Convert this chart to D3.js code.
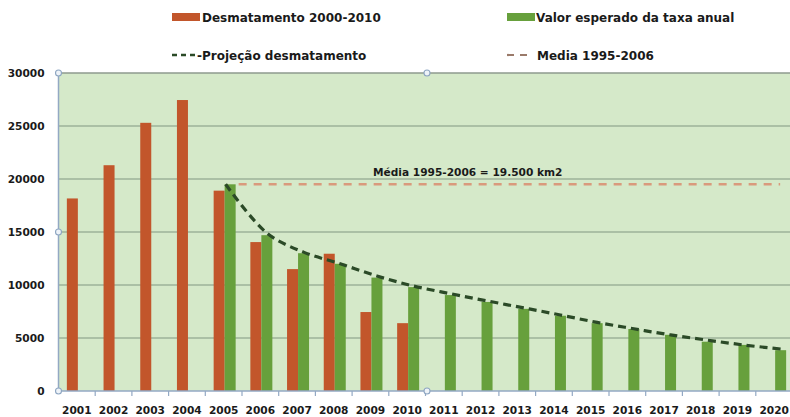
<!DOCTYPE html>
<html>
<head>
<meta charset="utf-8">
<script src="https://cdn.jsdelivr.net/npm/d3@7/dist/d3.min.js"></script>
<style>
  html, body { margin: 0; padding: 0; background: #ffffff; }
  svg { display: block; }
  text { font-family: "DejaVu Sans", "Liberation Sans", sans-serif; font-weight: bold; fill: #1a1a1a; }
</style>
</head>
<body>
<svg id="chart" width="790" height="417"></svg>
<script>
// ---------- data ----------
const years = ["2001","2002","2003","2004","2005","2006","2007","2008","2009","2010",
               "2011","2012","2013","2014","2015","2016","2017","2018","2019","2020"];
const desmatamentoYears = ["2001","2002","2003","2004","2005","2006","2007","2008","2009","2010"];
const desmatamento = [18165, 21300, 25300, 27450, 18900, 14050, 11500, 12950, 7450, 6400];
const esperadoYears = ["2005","2006","2007","2008","2009","2010","2011","2012","2013","2014",
                       "2015","2016","2017","2018","2019","2020"];
const esperado = [19500, 14700, 13000, 12000, 10700, 9800, 9050, 8400, 7750, 7100,
                  6400, 5850, 5300, 4650, 4350, 3850];
const projecao = [19500, 14900, 13100, 12000, 10850, 9900, 9180, 8500, 7840, 7170,
                  6470, 5870, 5290, 4800, 4340, 3960];
const mediaValue = 19500;
const mediaStart = "2005", mediaEnd = "2020";
const mediaLabel = "Média 1995-2006 = 19.500 km2";
const yTicks = [0, 5000, 10000, 15000, 20000, 25000, 30000];
const legendLabels = ["Desmatamento 2000-2010", "Valor esperado da taxa anual",
                      "-Projeção desmatamento", "Media 1995-2006"];

// ---------- styles ----------
const cRed = "#c2562b", cGreen = "#67a03c", cProj = "#2b4a27", cMedia = "#d99a7c";
const plotBg = "#d5e9c9", gridCol = "#9db299", axisCol = "#93a9c4";

const svg = d3.select("#chart");
const L = 58.5, R = 792.5, T = 73, B = 391;

const x = d3.scaleBand().domain(years).range([L, R]).padding(0);
const sub = d3.scaleBand().domain(["red","green"]).range([-10, 12]).padding(0);
const y = d3.scaleLinear().domain([0, 30000]).range([B, T]);

// plot background
svg.append("rect").attr("x", L).attr("y", T).attr("width", R - L).attr("height", B - T)
  .attr("fill", plotBg);

// gridlines
svg.append("g").selectAll("line").data(yTicks.filter(d => d > 0)).join("line")
  .attr("x1", L).attr("x2", R).attr("y1", d => y(d)).attr("y2", d => y(d))
  .attr("stroke", d => d === 30000 ? "#8e9a8e" : gridCol).attr("stroke-width", 1.6);

// y axis labels
const yAxis = d3.axisLeft(y).tickValues(yTicks).tickFormat(d3.format("d")).tickSize(0).tickPadding(14);
const gy = svg.append("g").attr("transform", `translate(${L},0)`).call(yAxis);
gy.select(".domain").remove();
gy.selectAll("text").attr("font-size", "10.6px").style("font-family", "DejaVu Sans").style("font-weight", "bold").attr("fill", "#1a1a1a");

// x axis
const xAxis = d3.axisBottom(x).tickSize(0).tickPadding(15);
const gx = svg.append("g").attr("transform", `translate(0,${B})`).call(xAxis);
gx.select(".domain").remove();
gx.selectAll("text").attr("font-size", "10.6px").style("font-family", "DejaVu Sans").style("font-weight", "bold").attr("fill", "#1a1a1a");
// tick marks at category boundaries
svg.append("g").selectAll("line").data(years.slice(1)).join("line")
  .attr("x1", d => x(d)).attr("x2", d => x(d)).attr("y1", B).attr("y2", B + 5)
  .attr("stroke", axisCol).attr("stroke-width", 1.2);

// bars
svg.append("g").selectAll("rect").data(desmatamentoYears.map((yr, i) => ({yr, v: desmatamento[i]})))
  .join("rect")
  .attr("x", d => x(d.yr) + x.bandwidth() / 2 + sub("red"))
  .attr("width", sub.bandwidth())
  .attr("y", d => y(d.v)).attr("height", d => B - y(d.v))
  .attr("fill", cRed);
svg.append("g").selectAll("rect").data(esperadoYears.map((yr, i) => ({yr, v: esperado[i]})))
  .join("rect")
  .attr("x", d => x(d.yr) + x.bandwidth() / 2 + sub("green"))
  .attr("width", sub.bandwidth())
  .attr("y", d => y(d.v)).attr("height", d => B - y(d.v))
  .attr("fill", cGreen);

// media line
const mx1 = x(mediaStart) + x.bandwidth() / 2 + sub("green") + sub.bandwidth() + 3;
const mx2 = x(mediaEnd) + x.bandwidth() / 2 + 6;
svg.append("line").attr("x1", mx1).attr("x2", mx2)
  .attr("y1", y(mediaValue)).attr("y2", y(mediaValue))
  .attr("stroke", cMedia).attr("stroke-width", 2.6).attr("stroke-dasharray", "8,7");
svg.append("text").attr("x", 373).attr("y", y(mediaValue) - 8)
  .attr("font-size", "10.6px").text(mediaLabel);

// projection line
const line = d3.line()
  .x((d, i) => x(d.yr) + x.bandwidth() / 2 + sub("green") + (i === 0 ? 1 : sub.bandwidth() / 2))
  .y(d => y(d.v))
  .curve(d3.curveCatmullRom.alpha(0.5));
svg.append("path").datum(esperadoYears.map((yr, i) => ({yr, v: projecao[i]})))
  .attr("d", line).attr("fill", "none")
  .attr("stroke", cProj).attr("stroke-width", 3.2).attr("stroke-dasharray", "8,5");

// axis lines
svg.append("line").attr("x1", L).attr("x2", L).attr("y1", T).attr("y2", B)
  .attr("stroke", axisCol).attr("stroke-width", 1.5);
svg.append("line").attr("x1", L).attr("x2", R).attr("y1", B).attr("y2", B)
  .attr("stroke", axisCol).attr("stroke-width", 1.5);

// selection handles
const handles = [[L, T], [L, (T + B) / 2], [L, B], [427, T], [427, B]];
svg.append("g").selectAll("circle").data(handles).join("circle")
  .attr("cx", d => d[0]).attr("cy", d => d[1]).attr("r", 3)
  .attr("fill", "#eef3f8").attr("stroke", "#8ea6c2").attr("stroke-width", 1.1);

// legend
const lg = svg.append("g");
lg.append("rect").attr("x", 172).attr("y", 13).attr("width", 28).attr("height", 8).attr("fill", cRed);
lg.append("text").attr("x", 202).attr("y", 21.5).attr("font-size", "12px").text(legendLabels[0]);
lg.append("rect").attr("x", 507).attr("y", 13).attr("width", 28).attr("height", 8).attr("fill", cGreen);
lg.append("text").attr("x", 536).attr("y", 21.5).attr("font-size", "12px").text(legendLabels[1]);
lg.append("line").attr("x1", 172).attr("x2", 196).attr("y1", 55).attr("y2", 55)
  .attr("stroke", cProj).attr("stroke-width", 2.4).attr("stroke-dasharray", "5,4");
lg.append("text").attr("x", 197).attr("y", 59.5).attr("font-size", "12px").text(legendLabels[2]);
lg.append("line").attr("x1", 507).attr("x2", 533).attr("y1", 55).attr("y2", 55)
  .attr("stroke", "#9a7a6a").attr("stroke-width", 2.2).attr("stroke-dasharray", "7,6");
lg.append("text").attr("x", 537).attr("y", 59.5).attr("font-size", "12px").text(legendLabels[3]);
</script>
</body>
</html>
